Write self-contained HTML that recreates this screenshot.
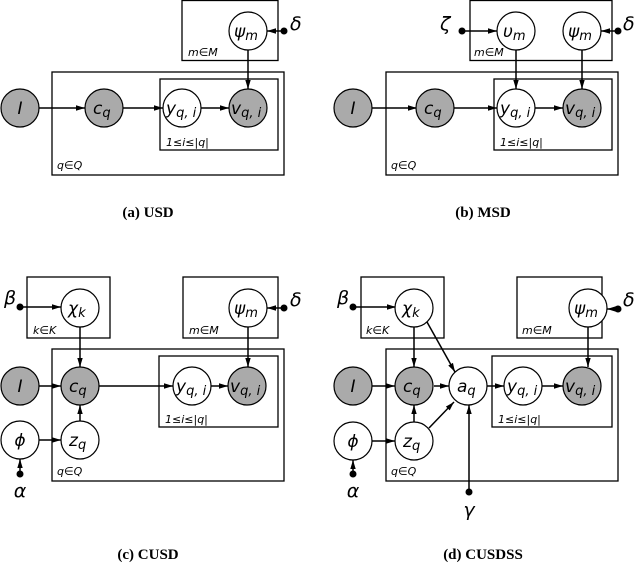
<!DOCTYPE html>
<html><head><meta charset="utf-8"><style>
html,body{margin:0;padding:0;background:#fff}
svg{display:block}
.n{stroke:#000;stroke-width:1.2}
.o{fill:#fff}.g{fill:#aaa}
.e{stroke:#000;stroke-width:1.5;fill:none;marker-end:url(#ar)}
.b{fill:none;stroke:#000;stroke-width:1.3}
text{font-family:"DejaVu Sans",sans-serif;font-style:oblique}
.v{font-size:17px;text-anchor:middle}
.s{font-size:13px}
.p{font-size:11px}
.c{font-family:"Liberation Serif",serif;font-style:normal;font-weight:bold;font-size:15px;text-anchor:middle}
.gk{font-size:19px}
</style></head><body>
<svg width="634" height="570" viewBox="0 0 634 570">
<defs><marker id="ar" viewBox="0 0 10 10" refX="10" refY="5" markerWidth="6" markerHeight="6" orient="auto"><path d="M0,2L10,5L0,8z" fill="#000"/></marker></defs>

<!-- (a) -->
<rect class="b" x="182" y="0.5" width="96" height="60"/>
<rect class="b" x="52" y="72" width="232" height="103"/>
<rect class="b" x="160" y="79" width="118" height="71"/>
<text class="p" x="188" y="56">m∈M</text><text class="p" x="166" y="146">1≤i≤|q|</text><text class="p" x="57" y="169">q∈Q</text>
<path class="e" d="M39,108H85"/><path class="e" d="M123,108H163"/><path class="e" d="M201,108H229"/><path class="e" d="M248,50V89"/><path class="e" d="M284,31H267"/>
<circle cx="284" cy="31" r="3.5"/><text class="gk" x="290" y="30">δ</text>
<circle class="n g" cx="20" cy="108" r="19"/><circle class="n g" cx="104" cy="108" r="19"/><circle class="n o" cx="182" cy="108" r="19"/><circle class="n g" cx="248" cy="108" r="19"/><circle class="n o" cx="248" cy="31" r="19"/>
<text class="v" x="20" y="114">I</text>
<text x="93" y="114" font-size="17">c<tspan class="s" dy="3">q</tspan></text>
<text x="166" y="114" font-size="17">y<tspan class="s" dy="3">q, i</tspan></text>
<text x="231" y="114" font-size="17">v<tspan class="s" dy="3">q, i</tspan></text>
<text x="234" y="37" font-size="17">ψ<tspan class="s" dy="3">m</tspan></text>
<text class="c" x="148" y="217">(a) USD</text>

<!-- (b) -->
<rect class="b" x="470" y="0.5" width="142" height="60"/>
<rect class="b" x="386" y="72" width="232" height="103"/>
<rect class="b" x="494" y="79" width="118" height="71"/>
<text class="p" x="474" y="56">m∈M</text><text class="p" x="500" y="146">1≤i≤|q|</text><text class="p" x="391" y="169">q∈Q</text>
<path class="e" d="M372,108H417"/><path class="e" d="M454,108H497"/><path class="e" d="M535,108H563"/><path class="e" d="M516,50V89"/><path class="e" d="M582,50V89"/><path class="e" d="M618,31H601"/><path class="e" d="M462,31H497"/>
<circle cx="618" cy="31" r="3.5"/><text class="gk" x="623" y="30">δ</text>
<circle cx="462" cy="31" r="3.5"/><text class="gk" x="440" y="30">ζ</text>
<circle class="n g" cx="353" cy="108" r="19"/><circle class="n g" cx="435" cy="108" r="19"/><circle class="n o" cx="516" cy="108" r="19"/><circle class="n g" cx="582" cy="108" r="19"/><circle class="n o" cx="516" cy="31" r="19"/><circle class="n o" cx="582" cy="31" r="19"/>
<text class="v" x="353" y="114">I</text>
<text x="424" y="114" font-size="17">c<tspan class="s" dy="3">q</tspan></text>
<text x="500" y="114" font-size="17">y<tspan class="s" dy="3">q, i</tspan></text>
<text x="565" y="114" font-size="17">v<tspan class="s" dy="3">q, i</tspan></text>
<text x="503" y="37" font-size="17">υ<tspan class="s" dy="3">m</tspan></text>
<text x="568" y="37" font-size="17">ψ<tspan class="s" dy="3">m</tspan></text>
<text class="c" x="483" y="217">(b) MSD</text>

<!-- (c) -->
<rect class="b" x="27" y="277" width="83" height="61"/>
<rect class="b" x="183" y="277" width="95" height="61"/>
<rect class="b" x="52" y="349" width="232" height="132"/>
<rect class="b" x="159" y="356" width="119" height="71"/>
<text class="p" x="33" y="334">k∈K</text><text class="p" x="189" y="334">m∈M</text><text class="p" x="165" y="423">1≤i≤|q|</text><text class="p" x="57" y="475">q∈Q</text>
<circle cx="20" cy="307" r="3.5"/><text class="gk" x="4" y="304">β</text><path class="e" d="M20,307H61"/>
<path class="e" d="M80,327V367"/><path class="e" d="M39,386H61"/><path class="e" d="M99,386H173"/><path class="e" d="M211,386H228"/>
<path class="e" d="M248,327V367"/><path class="e" d="M284,308H267"/><circle cx="284" cy="308" r="3.5"/><text class="gk" x="290" y="306">δ</text>
<path class="e" d="M80,421V405"/><path class="e" d="M39,440H61"/>
<circle cx="20" cy="474" r="3.5"/><path class="e" d="M20,474V459"/><text class="gk" x="20" y="497" text-anchor="middle">α</text>
<circle class="n o" cx="80" cy="308" r="19"/><circle class="n o" cx="248" cy="308" r="19"/>
<circle class="n g" cx="20" cy="386" r="19"/><circle class="n g" cx="80" cy="386" r="19"/><circle class="n o" cx="192" cy="386" r="19"/><circle class="n g" cx="247" cy="386" r="19"/>
<circle class="n o" cx="20" cy="440" r="19"/><circle class="n o" cx="80" cy="440" r="19"/>
<text x="68" y="314" font-size="17">χ<tspan class="s" dy="3">k</tspan></text>
<text x="234" y="314" font-size="17">ψ<tspan class="s" dy="3">m</tspan></text>
<text class="v" x="20" y="392">I</text>
<text x="69" y="392" font-size="17">c<tspan class="s" dy="3">q</tspan></text>
<text x="176" y="392" font-size="17">y<tspan class="s" dy="3">q, i</tspan></text>
<text x="230" y="392" font-size="17">v<tspan class="s" dy="3">q, i</tspan></text>
<text class="v" x="20" y="446">ϕ</text>
<text x="69" y="446" font-size="17">z<tspan class="s" dy="3">q</tspan></text>
<text class="c" x="148" y="559">(c) CUSD</text>

<!-- (d) -->
<rect class="b" x="361" y="277" width="83" height="61"/>
<rect class="b" x="517" y="277" width="85" height="61"/>
<rect class="b" x="386" y="349" width="232" height="132"/>
<rect class="b" x="492" y="356" width="120" height="71"/>
<text class="p" x="366" y="334">k∈K</text><text class="p" x="522" y="334">m∈M</text><text class="p" x="498" y="423">1≤i≤|q|</text><text class="p" x="391" y="475">q∈Q</text>
<circle cx="353" cy="307" r="3.5"/><text class="gk" x="337" y="304">β</text><path class="e" d="M353,307H396"/>
<path class="e" d="M414,327V367"/><path class="e" d="M372,386H395"/><path class="e" d="M434,386H449"/><path class="e" d="M487,386H504"/><path class="e" d="M542,386H563"/>
<path class="e" d="M427,322L455,372"/><path class="e" d="M429,428L454,402"/>
<path class="e" d="M588,327V367"/><path class="e" d="M618,309H607"/><circle cx="618" cy="309" r="3.5"/><text class="gk" x="623" y="306">δ</text>
<path class="e" d="M414,422V405"/><path class="e" d="M372,441H395"/>
<circle cx="353" cy="474" r="3.5"/><path class="e" d="M353,474V460"/><text class="gk" x="353" y="497" text-anchor="middle">α</text>
<circle cx="469" cy="492" r="3.5"/><path class="e" d="M469,492V405"/><text class="gk" x="469" y="516" text-anchor="middle">γ</text>
<circle class="n o" cx="414" cy="308" r="19"/><circle class="n o" cx="588" cy="308" r="19"/>
<circle class="n g" cx="353" cy="386" r="19"/><circle class="n g" cx="414" cy="386" r="19"/><circle class="n o" cx="468" cy="386" r="19"/><circle class="n o" cx="523" cy="386" r="19"/><circle class="n g" cx="582" cy="386" r="19"/>
<circle class="n o" cx="353" cy="441" r="19"/><circle class="n o" cx="414" cy="441" r="19"/>
<text x="402" y="314" font-size="17">χ<tspan class="s" dy="3">k</tspan></text>
<text x="574" y="314" font-size="17">ψ<tspan class="s" dy="3">m</tspan></text>
<text class="v" x="353" y="392">I</text>
<text x="403" y="392" font-size="17">c<tspan class="s" dy="3">q</tspan></text>
<text x="457" y="392" font-size="17">a<tspan class="s" dy="3">q</tspan></text>
<text x="507" y="392" font-size="17">y<tspan class="s" dy="3">q, i</tspan></text>
<text x="565" y="392" font-size="17">v<tspan class="s" dy="3">q, i</tspan></text>
<text class="v" x="353" y="447">ϕ</text>
<text x="403" y="447" font-size="17">z<tspan class="s" dy="3">q</tspan></text>
<text class="c" x="483" y="559">(d) CUSDSS</text>
</svg>
</body></html>
